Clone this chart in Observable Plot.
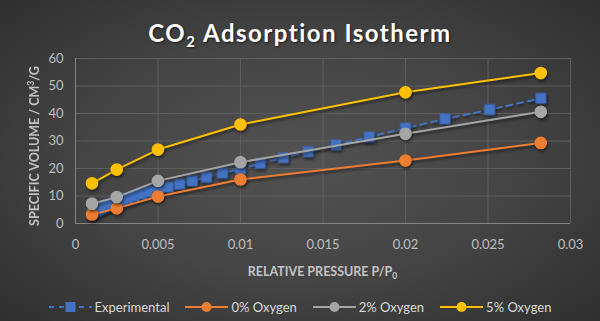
<!DOCTYPE html>
<html><head><meta charset="utf-8">
<script src="https://cdn.jsdelivr.net/npm/d3@7"></script>
<script src="https://cdn.jsdelivr.net/npm/@observablehq/plot@0.6"></script>
<style>
html,body{margin:0;padding:0;}
body{width:600px;height:321px;overflow:hidden;background:radial-gradient(ellipse 75% 80% at 50% 50%, #525252 0%, #454545 45%, #2b2b2b 100%);font-family:Lato,"Open Sans",sans-serif;font-variant-ligatures:none;}
#title{height:48px;box-sizing:border-box;padding-top:21px;text-align:center;color:#fff;font-size:24px;line-height:24px;font-weight:700;letter-spacing:1.5px;text-shadow:1px 1px 2px rgba(0,0,0,0.6);}
#title sub{font-size:15px;vertical-align:-5px;line-height:0;}
#chart svg{display:block;}
#legend{height:28px;display:flex;justify-content:center;align-items:center;color:#d9d9d9;font-size:13px;}
.item{display:flex;align-items:center;margin:0 8px;}
.item svg{margin-right:3px;}
</style></head><body>
<div id="title">CO<sub>2</sub> Adsorption Isotherm</div>
<div id="chart"></div>
<div id="legend"></div>
<script>
// ---- data ----
const seriesNames = ["Experimental", "0% Oxygen", "2% Oxygen", "5% Oxygen"];
const seriesColors = ["#4472C4", "#ED7D31", "#A5A5A5", "#FFC000"];

const pressureExp = [0.001, 0.00112, 0.00126, 0.00141, 0.00158, 0.00178, 0.002, 0.00224, 0.00251, 0.00282,
  0.00316, 0.00355, 0.00398, 0.00447, 0.00501, 0.00562, 0.00631, 0.00708, 0.00794, 0.00891,
  0.01, 0.0112, 0.0126, 0.0141, 0.0158, 0.0178, 0.02, 0.0224, 0.0251, 0.0282];
const experimental = [3.5, 4.0, 4.5, 5.0, 5.5, 6.1, 6.7, 7.3, 7.8, 8.5,
  9.2, 9.9, 10.7, 11.5, 12.3, 13.3, 14.3, 15.5, 16.8, 18.3,
  19.9, 21.9, 23.9, 26.1, 28.6, 31.4, 34.7, 38.0, 41.4, 45.5];

const pressureModel = [0.001, 0.0025, 0.005, 0.01, 0.02, 0.0282];
const oxygen0 = [3.3, 5.5, 9.8, 16.0, 22.9, 29.3];
const oxygen2 = [7.2, 9.6, 15.5, 22.3, 32.6, 40.6];
const oxygen5 = [14.6, 19.6, 26.9, 36.0, 47.7, 54.7];

const xTicks = [0, 0.005, 0.01, 0.015, 0.02, 0.025, 0.03];
const xTickLabels = ["0", "0.005", "0.01", "0.015", "0.02", "0.025", "0.03"];
const yTicks = [0, 10, 20, 30, 40, 50, 60];

// ---- tables ----
const expData = pressureExp.map((p, i) => ({p, v: experimental[i]}));
const modelSeries = [oxygen0, oxygen2, oxygen5].map((vals, k) =>
  pressureModel.map((p, i) => ({p, v: vals[i], s: seriesNames[k + 1]})));

const W = 600, H = 245, mL = 75, mR = 30, mT = 10, mB = 70;

const marks = [
  Plot.gridX(xTicks, {stroke: "#5e5e5e", strokeOpacity: 1}),
  Plot.gridY(yTicks, {stroke: "#5e5e5e", strokeOpacity: 1}),
  Plot.ruleY([0], {stroke: "#858585"}),
  Plot.ruleX([0], {stroke: "#858585"}),
  Plot.line(expData, {x: "p", y: "v", stroke: seriesColors[0], strokeWidth: 2, strokeDasharray: "6,5"}),
  Plot.dot(expData, {x: "p", y: "v", symbol: "square", r: 5.8, fill: seriesColors[0], stroke: "#3f69b5", strokeWidth: 0.8})
];
modelSeries.forEach((data, k) => {
  marks.push(Plot.line(data, {x: "p", y: "v", stroke: seriesColors[k + 1], strokeWidth: 2}));
  marks.push(Plot.dot(data, {x: "p", y: "v", r: 5.6, fill: seriesColors[k + 1], stroke: seriesColors[k + 1]}));
});

const plot = Plot.plot({
  width: W, height: H, marginLeft: mL, marginRight: mR, marginTop: mT, marginBottom: mB,
  style: {background: "transparent", color: "#bfbfbf", fontFamily: "Lato, sans-serif", fontSize: "13px", overflow: "visible"},
  x: {domain: [0, 0.03], ticks: xTicks, tickFormat: d => xTickLabels[xTicks.indexOf(d)], tickSize: 0, tickPadding: 16, label: null},
  y: {domain: [0, 60], ticks: yTicks, tickSize: 0, tickPadding: 12, label: null},
  marks
});
document.getElementById("chart").appendChild(plot);

const svg = d3.select(plot);
svg.selectAll('g[aria-label="line"], g[aria-label="dot"]').style("filter", "drop-shadow(1px 2px 1.5px rgba(0,0,0,0.55))");

// axis titles
const xt = svg.append("text")
  .attr("x", (mL + W - mR) / 2).attr("y", 228)
  .attr("text-anchor", "middle").attr("fill", "#c4c4c4")
  .attr("font-weight", "700").attr("font-size", 12.5);
xt.append("tspan").text("RELATIVE PRESSURE P/P");
xt.append("tspan").attr("font-size", 8.5).attr("dy", 3).text("0");

const yt = svg.append("text")
  .attr("transform", "translate(39,98) rotate(-90)")
  .attr("text-anchor", "middle").attr("fill", "#c4c4c4")
  .attr("font-weight", "700").attr("font-size", 12.5);
yt.append("tspan").text("SPECIFIC VOLUME / CM");
yt.append("tspan").attr("font-size", 8.5).attr("dy", -5).text("3");
yt.append("tspan").attr("dy", 5).text("/G");

// legend
const legend = d3.select("#legend");
seriesNames.forEach((name, k) => {
  const item = legend.append("div").attr("class", "item");
  const s = item.append("svg").attr("width", 43).attr("height", 14);
  s.append("line").attr("x1", 0).attr("x2", 43).attr("y1", 7).attr("y2", 7)
    .attr("stroke", seriesColors[k]).attr("stroke-width", 2)
    .attr("stroke-dasharray", k === 0 ? "5,5" : null);
  if (k === 0) s.append("rect").attr("x", 16.5).attr("y", 2).attr("width", 10).attr("height", 10).attr("fill", seriesColors[k]);
  else s.append("circle").attr("cx", 21.5).attr("cy", 7).attr("r", 5).attr("fill", seriesColors[k]);
  item.append("span").text(name);
});
</script></body></html>
